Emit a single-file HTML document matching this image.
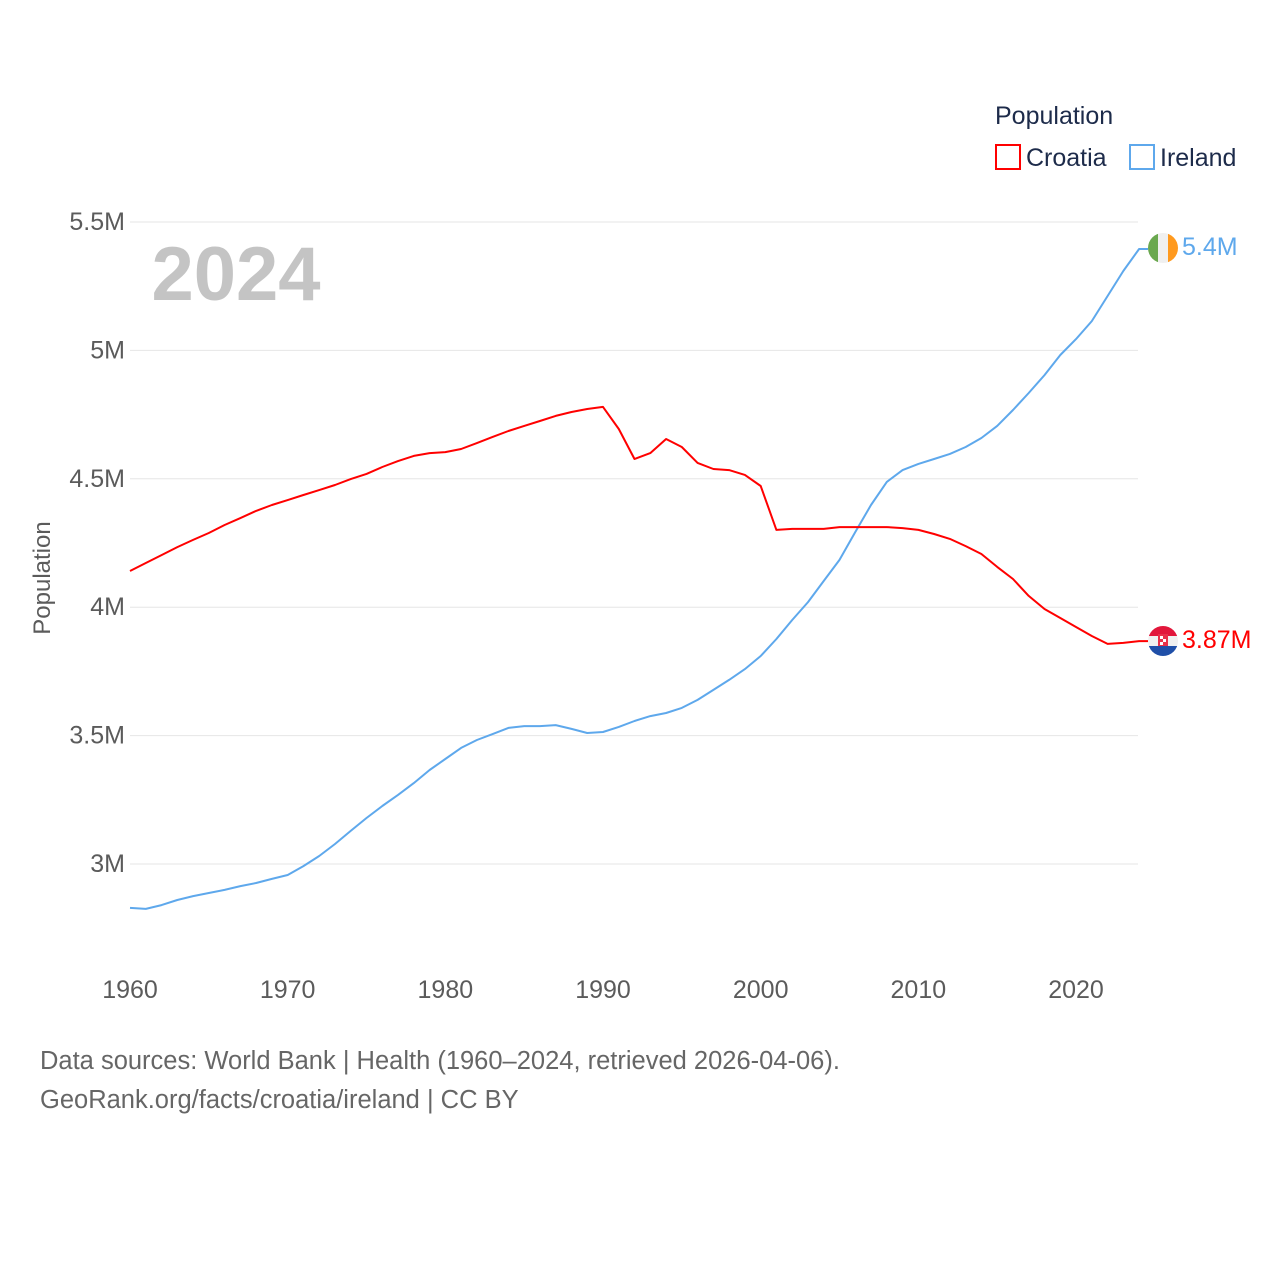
<!DOCTYPE html>
<html><head><meta charset="utf-8"><style>
body{margin:0;background:#fff;font-family:"Liberation Sans",sans-serif;}
svg text{font-family:"Liberation Sans",sans-serif;}
</style></head><body>
<svg id="chart" width="1280" height="1280" viewBox="0 0 1280 1280">
<rect width="1280" height="1280" fill="#fff"/>
<g id="grid"></g>
<g id="yticks"></g>
<g id="xticks"></g>
<text x="236" y="300" text-anchor="middle" font-size="76" font-weight="bold" fill="#c4c4c4">2024</text>
<text transform="translate(50,578) rotate(-90)" text-anchor="middle" font-size="24" fill="#5b5b5b">Population</text>
<g id="lines"></g>
<g>
<text x="995" y="124" font-size="25" fill="#1d2b4a">Population</text>
<g><rect x="996" y="145" width="24" height="24" fill="none" stroke="#ff0000" stroke-width="2"/><text x="1026" y="166" font-size="25" fill="#1d2b4a">Croatia</text></g>
<g><rect x="1130" y="145" width="24" height="24" fill="none" stroke="#5ea8ec" stroke-width="2"/><text x="1160" y="166" font-size="25" fill="#1d2b4a">Ireland</text></g>
</g>
<defs>
<clipPath id="c1"><circle cx="1163" cy="248" r="15"/></clipPath>
<clipPath id="c2"><circle cx="1163" cy="641" r="15"/></clipPath>
</defs>
<g clip-path="url(#c1)">
<rect x="1148" y="233" width="10" height="30" fill="#6aa84f"/><rect x="1158" y="233" width="10" height="30" fill="#f0f0f0"/><rect x="1168" y="233" width="10" height="30" fill="#ff9a1f"/>
</g>
<g clip-path="url(#c2)">
<rect x="1148" y="626" width="30" height="10" fill="#e2173b"/><rect x="1148" y="636" width="30" height="10" fill="#f0f0f0"/><rect x="1148" y="646" width="30" height="10" fill="#1f4fa8"/>
<rect x="1158" y="634" width="10" height="12" fill="#e8304a"/><rect x="1160" y="636" width="3" height="3" fill="#fff"/><rect x="1163" y="639" width="3" height="3" fill="#fff"/><rect x="1160" y="642" width="3" height="3" fill="#fff"/>
</g>
<text x="1182" y="255" font-size="25" fill="#5ea8ec">5.4M</text>
<text x="1182" y="648" font-size="25" fill="#ff0000">3.87M</text>
<text x="40" y="1069" font-size="25.5" fill="#666">Data sources: World Bank | Health (1960–2024, retrieved 2026-04-06).</text>
<text x="40" y="1108" font-size="25.5" fill="#666">GeoRank.org/facts/croatia/ireland | CC BY</text>
</svg>
<script>
const years=[];for(let y=1960;y<=2024;y++)years.push(y);
const croatia=[4.141,4.172,4.203,4.234,4.262,4.289,4.320,4.347,4.375,4.398,4.417,4.437,4.456,4.476,4.499,4.519,4.546,4.569,4.589,4.600,4.604,4.616,4.639,4.663,4.686,4.706,4.725,4.745,4.760,4.772,4.780,4.694,4.577,4.600,4.655,4.624,4.562,4.538,4.534,4.515,4.472,4.301,4.305,4.305,4.305,4.312,4.312,4.312,4.312,4.308,4.301,4.285,4.266,4.238,4.207,4.157,4.110,4.044,3.993,3.958,3.923,3.888,3.857,3.861,3.868];
const ireland=[2.829,2.825,2.840,2.860,2.875,2.887,2.899,2.914,2.926,2.942,2.957,2.992,3.031,3.078,3.129,3.179,3.226,3.269,3.315,3.366,3.409,3.452,3.483,3.506,3.530,3.537,3.537,3.541,3.526,3.510,3.514,3.534,3.557,3.576,3.588,3.608,3.639,3.678,3.717,3.759,3.810,3.876,3.950,4.020,4.102,4.184,4.293,4.398,4.488,4.534,4.558,4.577,4.597,4.624,4.659,4.706,4.768,4.834,4.904,4.982,5.044,5.114,5.212,5.309,5.395];
const yTicks=[3,3.5,4,4.5,5,5.5];
const yTickLabels=["3M","3.5M","4M","4.5M","5M","5.5M"];
const xTicks=[1960,1970,1980,1990,2000,2010,2020];
const NS="http://www.w3.org/2000/svg";
const X=y=>130+(y-1960)*15.767;
const Y=v=>222+(5.5-v)*256.8;
function mk(tag,attrs,parent){const e=document.createElementNS(NS,tag);for(const k in attrs)e.setAttribute(k,attrs[k]);parent.appendChild(e);return e;}
const grid=document.getElementById('grid'),yt=document.getElementById('yticks'),xt=document.getElementById('xticks'),lines=document.getElementById('lines');
yTicks.forEach((v,i)=>{
 const l=mk('line',{x1:130,x2:1138,y1:Y(v),y2:Y(v),stroke:'#e6e6e6','stroke-width':1},grid);
 
 
 const t=mk('text',{x:125,y:Y(v)+8,'text-anchor':'end','font-size':25,fill:'#5b5b5b'},yt);
 t.textContent=yTickLabels[i];
 
 
});
xTicks.forEach(y=>{
 const t=mk('text',{x:X(y),y:998,'text-anchor':'middle','font-size':25,fill:'#5b5b5b'},xt);
 t.textContent=y;
 
 
});
function series(vals,color,name){
 let d=vals.map((v,i)=>(i?'L':'M')+X(years[i]).toFixed(1)+','+Y(v).toFixed(1)).join(' ');
 d+=' L1148,'+Y(vals[vals.length-1]).toFixed(1);
 const p=mk('path',{d:d,fill:'none',stroke:color,'stroke-width':2,'stroke-linejoin':'round'},lines);
 
 
}
series(ireland,'#5ea8ec','ireland-line');
series(croatia,'#ff0000','croatia-line');
</script>
</body></html>
